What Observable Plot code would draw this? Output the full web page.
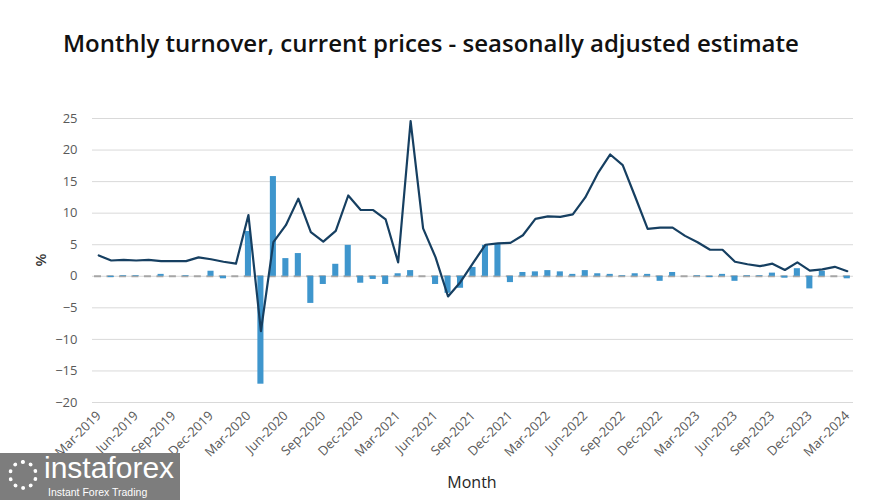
<!DOCTYPE html>
<html>
<head>
<meta charset="utf-8">
<script src="https://cdn.jsdelivr.net/npm/d3@7"></script>
<script src="https://cdn.jsdelivr.net/npm/@observablehq/plot@0.6"></script>
<style>
  html, body { margin: 0; padding: 0; background: #fff; }
  #wrap { position: relative; width: 878px; height: 500px; overflow: hidden; font-family: "Open Sans", sans-serif; }
  #title { height: 90px; box-sizing: border-box; padding: 26px 0 0 63px; font-size: 24px; font-weight: 600; color: #111; white-space: nowrap; }
  #ylab { position: absolute; left: 30px; top: 250px; width: 20px; height: 20px; line-height: 20px; text-align: center; font-size: 15px; font-weight: 600; color: #333; transform: rotate(-90deg); }
  #xlab { position: absolute; left: 422px; width: 100px; top: 471px; text-align: center; font-size: 16px; color: #262626; }
  #logo { position: absolute; left: 0; top: 453px; width: 180px; height: 47px; background: #7d7d7d; color: #fff; font-family: "Liberation Sans", Arial, sans-serif; }
  #logo .big { position: absolute; left: 44px; top: 0px; font-size: 30px; line-height: 30px; }
  #logo .small { position: absolute; left: 48px; top: 33px; font-size: 10.5px; line-height: 12px; }
  #logo .gear { position: absolute; left: 8px; top: 7px; width: 30px; height: 30px; border: 4px dotted #fff; border-radius: 50%; box-sizing: border-box; }
</style>
</head>
<body>
<div id="wrap">
  <div id="title">Monthly turnover, current prices - seasonally adjusted estimate</div>
  <div id="chart"></div>
  <div id="ylab">%</div>
  <div id="xlab">Month</div>
  <div id="logo"><div class="gear"></div><span class="big">instaforex</span><span class="small">Instant Forex Trading</span></div>
</div>
<script>
const months = [
  "Mar-2019","Apr-2019","May-2019","Jun-2019","Jul-2019","Aug-2019","Sep-2019","Oct-2019","Nov-2019","Dec-2019",
  "Jan-2020","Feb-2020","Mar-2020","Apr-2020","May-2020","Jun-2020","Jul-2020","Aug-2020","Sep-2020","Oct-2020","Nov-2020","Dec-2020",
  "Jan-2021","Feb-2021","Mar-2021","Apr-2021","May-2021","Jun-2021","Jul-2021","Aug-2021","Sep-2021","Oct-2021","Nov-2021","Dec-2021",
  "Jan-2022","Feb-2022","Mar-2022","Apr-2022","May-2022","Jun-2022","Jul-2022","Aug-2022","Sep-2022","Oct-2022","Nov-2022","Dec-2022",
  "Jan-2023","Feb-2023","Mar-2023","Apr-2023","May-2023","Jun-2023","Jul-2023","Aug-2023","Sep-2023","Oct-2023","Nov-2023","Dec-2023",
  "Jan-2024","Feb-2024","Mar-2024"
];
// month-on-month % change (bars)
const monthly = [
  0, -0.2, 0.1, 0.1, 0, 0.3, 0, 0.1, 0, 0.8,
  -0.4, 0, 7.1, -17.1, 15.8, 2.8, 3.6, -4.3, -1.3, 1.9, 4.9, -1.1,
  -0.5, -1.3, 0.4, 0.9, 0, -1.3, -2.7, -1.9, 1.4, 4.9, 5.1, -1.0,
  0.6, 0.7, 0.9, 0.7, 0.3, 0.9, 0.4, 0.3, 0.1, 0.4, 0.3, -0.8,
  0.6, 0, 0.1, -0.2, 0.3, -0.8, 0.1, 0.1, 0.5, -0.3, 1.2, -2.0,
  0.8, 0, -0.4
];
// year-on-year % change (line)
const yearly = [
  3.3, 2.5, 2.6, 2.5, 2.6, 2.4, 2.4, 2.4, 3.0, 2.7,
  2.3, 2.0, 9.7, -8.7, 5.4, 8.1, 12.3, 7.0, 5.5, 7.2, 12.8, 10.5,
  10.5, 9.0, 2.2, 24.6, 7.6, 3.0, -3.2, -0.9, 2.1, 5.0, 5.2, 5.3,
  6.5, 9.1, 9.5, 9.4, 9.8, 12.5, 16.3, 19.3, 17.6, 12.6, 7.5, 7.7,
  7.7, 6.4, 5.4, 4.2, 4.2, 2.3, 1.9, 1.6, 2.0, 1.0, 2.2, 0.9,
  1.1, 1.5, 0.8
];
const xTicks = ["Mar-2019","Jun-2019","Sep-2019","Dec-2019","Mar-2020","Jun-2020","Sep-2020","Dec-2020","Mar-2021","Jun-2021","Sep-2021","Dec-2021","Mar-2022","Jun-2022","Sep-2022","Dec-2022","Mar-2023","Jun-2023","Sep-2023","Dec-2023","Mar-2024"];
const yTicks = [25, 20, 15, 10, 5, 0, -5, -10, -15, -20];

const data = months.map((m, i) => ({month: m, monthly: monthly[i], yearly: yearly[i]}));

const chart = Plot.plot({
  width: 878,
  height: 410,
  marginTop: 28,
  marginBottom: 98,
  marginLeft: 92,
  marginRight: 25,
  style: {fontFamily: "Open Sans, sans-serif", fontSize: "12px", color: "#595959", background: "#fff"},
  x: {type: "band", domain: months, padding: 0, round: false, label: null},
  y: {domain: [-20, 25], label: null},
  marks: [
    Plot.ruleY(yTicks, {stroke: "#d9d9d9", strokeWidth: 1}),
    Plot.ruleY([0], {stroke: "#a6a6a6", strokeWidth: 2, strokeDasharray: "7,5.48", strokeDashoffset: -2}),
    Plot.barY(data, {x: "month", y: "monthly", fill: "#3f96cd", insetLeft: 3.2, insetRight: 3.2}),
    Plot.line(data, {x: "month", y: "yearly", stroke: "#163f61", strokeWidth: 2.2}),
    Plot.axisY(yTicks, {tickSize: 0, tickPadding: 15, fontSize: 13, fill: "#595959", label: null}),
    Plot.axisX(xTicks, {tickSize: 0, tickPadding: 11, tickRotate: -45, fontSize: 13, fill: "#595959", label: null})
  ]
});
document.getElementById("chart").appendChild(chart);
</script>
</body>
</html>
